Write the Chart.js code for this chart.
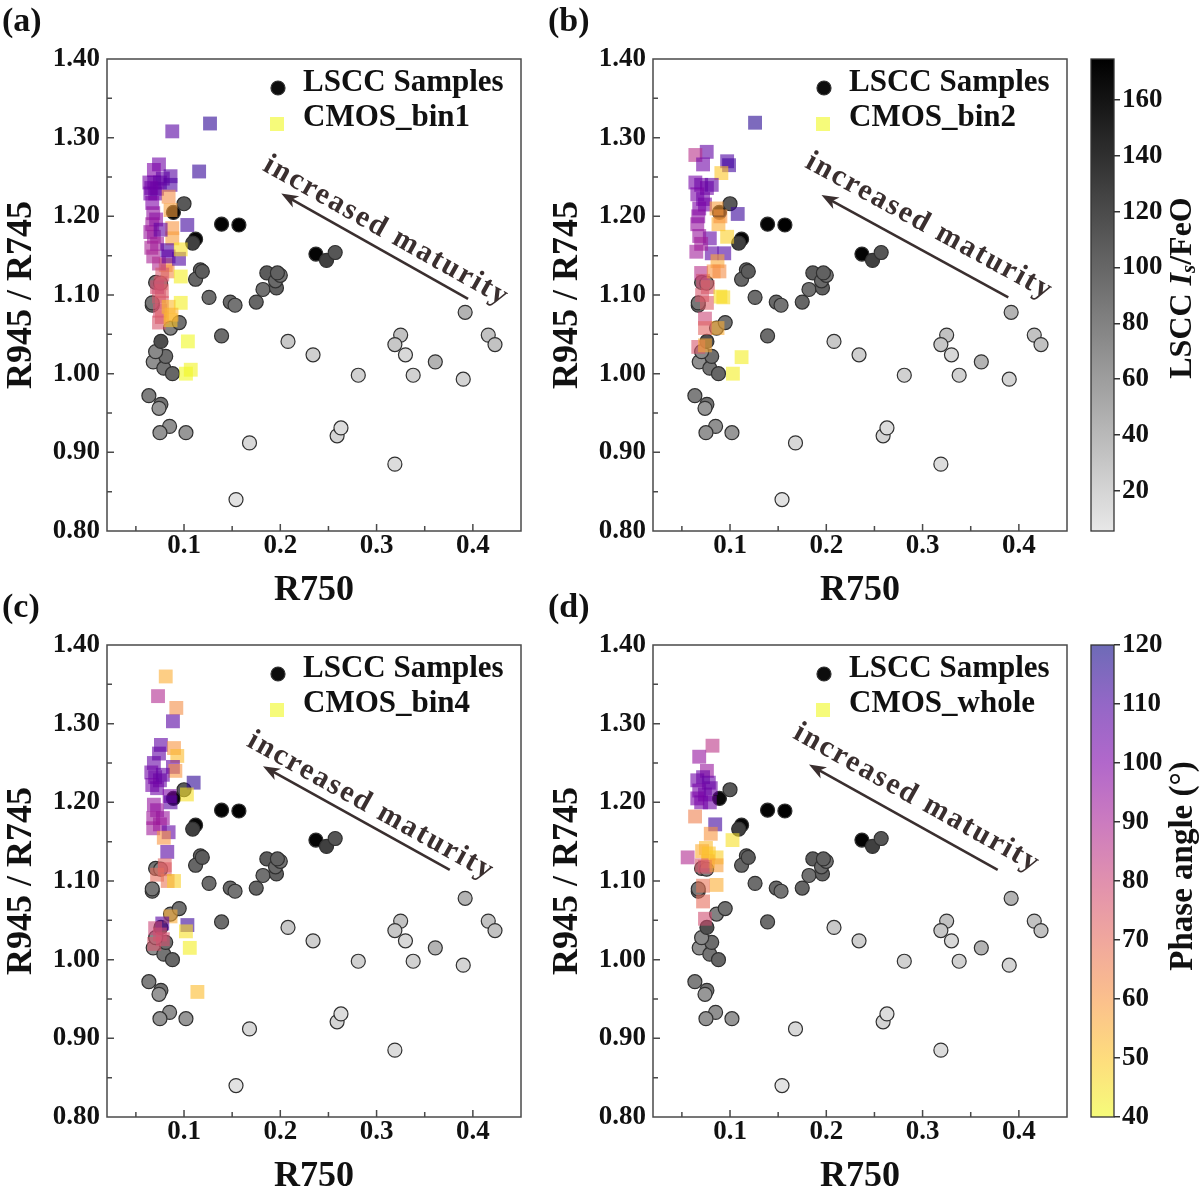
<!DOCTYPE html>
<html>
<head>
<meta charset="utf-8">
<script src="https://cdn.jsdelivr.net/npm/chart.js@4.4.0/dist/chart.umd.min.js"></script>
<style>
  body { margin: 0; background: #fff; }
  #wrap { position: relative; width: 1200px; height: 1190px; overflow: hidden; background: #fff; }
  canvas { position: absolute; }
</style>
</head>
<body>
<div id="wrap">
  <canvas id="pa" width="546" height="614" style="left:0;top:0"></canvas>
  <canvas id="pb" width="546" height="614" style="left:546px;top:0"></canvas>
  <canvas id="pc" width="546" height="614" style="left:0;top:586px"></canvas>
  <canvas id="pd" width="546" height="614" style="left:546px;top:586px"></canvas>
  <canvas id="cb1" width="140" height="600" style="left:1060px;top:0"></canvas>
  <canvas id="cb2" width="140" height="600" style="left:1060px;top:586px"></canvas>
</div>
<script>
// --- LSCC samples (same in all four panels) ---
const lsccX = [0.0635, 0.076, 0.074, 0.085, 0.075, 0.102, 0.068, 0.079, 0.088, 0.081,
  0.0705, 0.076, 0.086, 0.095, 0.067, 0.0705, 0.0757, 0.067, 0.089, 0.100,
  0.112, 0.109, 0.139, 0.157, 0.117, 0.112, 0.119, 0.126, 0.148, 0.153,
  0.139, 0.175, 0.182, 0.186, 0.196, 0.195, 0.200, 0.197, 0.237, 0.248,
  0.257, 0.208, 0.234, 0.281, 0.259, 0.263, 0.168, 0.154, 0.319, 0.325,
  0.319, 0.330, 0.338, 0.361, 0.392, 0.390, 0.416, 0.423];
const lsccY = [0.972, 0.961, 0.956, 0.933, 0.925, 0.925, 1.015, 1.007, 1.000, 1.022,
  1.028, 1.041, 1.058, 1.065, 1.087, 1.116, 1.115, 1.090, 1.205, 1.216,
  1.171, 1.166, 1.190, 1.189, 1.132, 1.120, 1.130, 1.097, 1.091, 1.087,
  1.048, 1.091, 1.107, 1.128, 1.109, 1.118, 1.125, 1.128, 1.152, 1.144,
  1.154, 1.041, 1.024, 0.998, 0.921, 0.931, 0.912, 0.840, 0.885, 1.049,
  1.037, 1.024, 0.998, 1.015, 1.078, 0.993, 1.049, 1.037];
const lsccIsFeO = [82, 92, 65, 70, 67, 65, 70, 90, 100, 95,
  75, 118, 80, 92, 95, 90, 80, 88, 168, 110,
  170, 128, 172, 174, 102, 100, 108, 95, 98, 90,
  96, 100, 92, 108, 105, 98, 90, 104, 172, 128,
  112, 29, 24, 22, 20, 14, 17, 10, 14, 33,
  30, 17, 22, 44, 44, 20, 33, 33];

// --- CMOS_bin1 ---
const bin1X = [0.0878, 0.127, 0.1157, 0.074, 0.0687, 0.086, 0.064, 0.069, 0.075, 0.086,
  0.065, 0.070, 0.067, 0.072, 0.078, 0.066, 0.084, 0.086, 0.0878, 0.0878,
  0.081, 0.083, 0.068, 0.067, 0.0687, 0.066, 0.068, 0.074, 0.065, 0.071,
  0.072, 0.1034, 0.0757, 0.0826, 0.084, 0.0948, 0.0966, 0.0966, 0.0966, 0.104,
  0.107, 0.102, 0.0774, 0.0757, 0.077, 0.074, 0.077, 0.075, 0.077, 0.074,
  0.072, 0.084, 0.086, 0.087];
const bin1Y = [1.308, 1.318, 1.257, 1.266, 1.259, 1.251, 1.243, 1.243, 1.243, 1.240,
  1.229, 1.229, 1.217, 1.235, 1.248, 1.236, 1.225, 1.208, 1.185, 1.172,
  1.138, 1.130, 1.204, 1.190, 1.174, 1.160, 1.149, 1.140, 1.180, 1.196,
  1.165, 1.189, 1.183, 1.157, 1.149, 1.146, 1.158, 1.1235, 1.090, 1.041,
  1.005, 1.000, 1.126, 1.115, 1.105, 1.098, 1.090, 1.080, 1.072, 1.065,
  1.110, 1.085, 1.068, 1.075];
const bin1Phase = [108, 115, 114, 103, 100, 108, 102, 104, 105, 110,
  103, 104, 100, 105, 106, 103, 62, 58, 60, 58,
  60, 62, 96, 93, 92, 90, 90, 88, 94, 97,
  92, 112, 106, 110, 106, 110, 45, 42, 42, 40,
  41, 40, 76, 75, 74, 76, 75, 77, 74, 76,
  78, 52, 50, 54];

// --- CMOS_bin2 ---
const bin2X = [0.126, 0.0758, 0.064, 0.072, 0.097, 0.099, 0.091, 0.064, 0.070, 0.076,
  0.066, 0.072, 0.081, 0.068, 0.074, 0.086, 0.108, 0.088, 0.097, 0.079,
  0.065, 0.094, 0.081, 0.087, 0.070, 0.072, 0.077, 0.071, 0.090, 0.093,
  0.076, 0.074, 0.087, 0.074, 0.067, 0.074, 0.112, 0.103, 0.066, 0.068,
  0.070, 0.067, 0.090, 0.083, 0.089];
const bin2Y = [1.319, 1.282, 1.278, 1.266, 1.270, 1.265, 1.255, 1.243, 1.240, 1.236,
  1.228, 1.222, 1.240, 1.210, 1.215, 1.210, 1.203, 1.190, 1.174, 1.172,
  1.155, 1.153, 1.153, 1.143, 1.128, 1.118, 1.110, 1.100, 1.098, 1.097,
  1.090, 1.070, 1.058, 1.058, 1.034, 1.036, 1.021, 1.000, 1.190, 1.175,
  1.165, 1.200, 1.200, 1.130, 1.130];
const bin2Phase = [116, 106, 86, 103, 110, 112, 50, 102, 104, 103,
  101, 103, 106, 100, 102, 58, 113, 55, 48, 106,
  92, 110, 107, 56, 86, 78, 74, 76, 45, 46,
  74, 80, 55, 72, 76, 56, 42, 42, 95, 94,
  92, 97, 60, 60, 62];

// --- CMOS_bin4 ---
const bin4X = [0.081, 0.073, 0.092, 0.0885, 0.076, 0.0896, 0.093, 0.074, 0.0687, 0.0885,
  0.091, 0.066, 0.070, 0.075, 0.067, 0.072, 0.078, 0.110, 0.103, 0.085,
  0.0687, 0.086, 0.072, 0.068, 0.078, 0.068, 0.075, 0.084, 0.079, 0.0826,
  0.080, 0.080, 0.072, 0.083, 0.0896, 0.086, 0.0774, 0.1035, 0.102, 0.070,
  0.075, 0.069, 0.078, 0.106, 0.1139];
const bin4Y = [1.360, 1.335, 1.320, 1.303, 1.273, 1.269, 1.259, 1.262, 1.250, 1.245,
  1.240, 1.238, 1.232, 1.228, 1.222, 1.218, 1.235, 1.225, 1.210, 1.208,
  1.197, 1.200, 1.190, 1.180, 1.180, 1.167, 1.172, 1.162, 1.155, 1.137,
  1.120, 1.115, 1.108, 1.100, 1.100, 1.055, 1.046, 1.044, 1.036, 1.040,
  1.032, 1.020, 1.026, 1.015, 0.959];
const bin4Phase = [55, 88, 62, 108, 106, 60, 52, 106, 105, 105,
  60, 103, 104, 104, 102, 103, 105, 115, 45, 100,
  95, 108, 95, 93, 94, 92, 93, 106, 60, 108,
  72, 74, 70, 68, 48, 55, 108, 113, 45, 80,
  78, 76, 77, 42, 52];

// --- CMOS_whole ---
const wholeX = [0.0818, 0.068, 0.076, 0.066, 0.072, 0.078, 0.068, 0.074, 0.080, 0.070,
  0.079, 0.066, 0.0637, 0.0846, 0.080, 0.1026, 0.075, 0.071, 0.078, 0.086,
  0.056, 0.077, 0.0706, 0.074, 0.086, 0.086, 0.072, 0.072, 0.074];
const wholeY = [1.272, 1.258, 1.240, 1.228, 1.232, 1.225, 1.215, 1.210, 1.218, 1.200,
  1.200, 1.205, 1.182, 1.172, 1.160, 1.152, 1.142, 1.138, 1.135, 1.130,
  1.130, 1.125, 1.120, 1.118, 1.120, 1.095, 1.094, 1.074, 1.052];
const wholePhase = [85, 95, 94, 103, 104, 105, 102, 103, 104, 102,
  103, 101, 65, 112, 60, 45, 52, 55, 50, 48,
  88, 52, 75, 76, 58, 55, 68, 70, 78];

// --- axes / colourbar ticks ---
const xTicks = [0.1, 0.2, 0.3, 0.4];
const yTicks = [0.8, 0.9, 1.0, 1.1, 1.2, 1.3, 1.4];
const isFeOTicks = [20, 40, 60, 80, 100, 120, 140, 160];
const phaseTicks = [40, 50, 60, 70, 80, 90, 100, 110, 120];

const FONT = '"Liberation Serif", "Times New Roman", serif';
const INK = '#111';
const PH_MIN = 40, PH_MAX = 120;
const IS_MIN = 5.6, IS_MAX = 174.7;

// plasma colormap (reversed for phase angle), drawn semi-transparent like the figure
const plasmaStops = ['#0d0887', '#4c02a1', '#7e03a8', '#a92395', '#cc4778', '#e66c5c', '#f89540', '#fdc527', '#f0f921'];
function hexRgb(h) {
    return [parseInt(h.slice(1, 3), 16), parseInt(h.slice(3, 5), 16), parseInt(h.slice(5, 7), 16)];
}
function plasma(t) {
    t = Math.max(0, Math.min(1, t));
    const n = plasmaStops.length - 1;
    const i = Math.min(n - 1, Math.floor(t * n));
    const f = t * n - i;
    const a = hexRgb(plasmaStops[i]), b = hexRgb(plasmaStops[i + 1]);
    return a.map((v, k) => Math.round(v + (b[k] - v) * f));
}
function phaseColor(p, alpha = 0.6) {
    const c = plasma((PH_MAX - p) / (PH_MAX - PH_MIN));
    return `rgba(${c[0]},${c[1]},${c[2]},${alpha})`;
}
function greyColor(v) {
    const t = Math.max(0, Math.min(1, (v - IS_MIN) / (IS_MAX - IS_MIN)));
    const g = Math.round(232 * (1 - t));
    return `rgb(${g},${g},${g})`;
}

const panels = {
    pa: { tag: '(a)', name: 'CMOS_bin1', xs: bin1X, ys: bin1Y, ph: bin1Phase,
          head: [0.201, 1.229], tail: [0.395, 1.095], label: [0.310, 1.181] },
    pb: { tag: '(b)', name: 'CMOS_bin2', xs: bin2X, ys: bin2Y, ph: bin2Phase,
          head: [0.195, 1.227], tail: [0.389, 1.097], label: [0.307, 1.187] },
    pc: { tag: '(c)', name: 'CMOS_bin4', xs: bin4X, ys: bin4Y, ph: bin4Phase,
          head: [0.182, 1.246], tail: [0.376, 1.114], label: [0.294, 1.195] },
    pd: { tag: '(d)', name: 'CMOS_whole', xs: wholeX, ys: wholeY, ph: wholePhase,
          head: [0.182, 1.248], tail: [0.378, 1.114], label: [0.294, 1.205] }
};

// frame, inward ticks, arrow, legend and panel tag
const panelDecor = {
    id: 'panelDecor',
    afterDatasetsDraw(chart) {
        const p = panels[chart.canvas.id];
        const { ctx, chartArea: a, scales: { x, y } } = chart;
        ctx.save();
        ctx.strokeStyle = '#4a4a4a';
        ctx.lineWidth = 1.5;
        ctx.strokeRect(a.left, a.top, a.right - a.left, a.bottom - a.top);

        // major + minor ticks pointing into the plot
        const xStep = xTicks[1] - xTicks[0], yStep = yTicks[1] - yTicks[0];
        ctx.beginPath();
        for (let v = xTicks[0] - xStep / 2; v < x.max - 1e-6; v += xStep / 2) {
            if (v <= x.min) continue;
            const major = xTicks.some(t => Math.abs(t - v) < 1e-6);
            const px = x.getPixelForValue(v);
            ctx.moveTo(px, a.bottom); ctx.lineTo(px, a.bottom - (major ? 7 : 5));
        }
        for (let v = yTicks[0] + yStep / 2; v < y.max - 1e-6; v += yStep / 2) {
            const major = yTicks.some(t => Math.abs(t - v) < 1e-6);
            const py = y.getPixelForValue(v);
            ctx.moveTo(a.left, py); ctx.lineTo(a.left + (major ? 7 : 5), py);
        }
        ctx.stroke();

        // "increased maturity" arrow
        const hx = x.getPixelForValue(p.head[0]), hy = y.getPixelForValue(p.head[1]);
        const tx = x.getPixelForValue(p.tail[0]), ty = y.getPixelForValue(p.tail[1]);
        const ang = Math.atan2(hy - ty, hx - tx);
        const c = Math.cos(ang), s = Math.sin(ang);
        const L = 17, W = 6.5;
        ctx.strokeStyle = ctx.fillStyle = '#3a2f2f';
        ctx.lineWidth = 2.6;
        ctx.beginPath();
        ctx.moveTo(tx, ty);
        ctx.lineTo(hx - c * L * 0.7, hy - s * L * 0.7);
        ctx.stroke();
        ctx.beginPath();
        ctx.moveTo(hx, hy);
        ctx.lineTo(hx - L * c + W * s, hy - L * s - W * c);
        ctx.lineTo(hx - 0.72 * L * c, hy - 0.72 * L * s);
        ctx.lineTo(hx - L * c - W * s, hy - L * s + W * c);
        ctx.closePath();
        ctx.fill();

        const lx = x.getPixelForValue(p.label[0]), ly = y.getPixelForValue(p.label[1]);
        ctx.save();
        ctx.translate(lx, ly);
        ctx.rotate(Math.atan2(ty - hy, tx - hx));
        ctx.font = `bold 30px ${FONT}`;
        ctx.letterSpacing = '2px';
        ctx.textAlign = 'center';
        ctx.textBaseline = 'middle';
        ctx.fillText('increased maturity', 0, 0);
        ctx.restore();

        // legend
        ctx.fillStyle = greyColor(165);
        ctx.strokeStyle = '#303030';
        ctx.lineWidth = 1.2;
        ctx.beginPath();
        ctx.arc(278, 88, 7, 0, Math.PI * 2);
        ctx.fill(); ctx.stroke();
        ctx.fillStyle = phaseColor(PH_MIN);
        ctx.fillRect(277 - 7, 124 - 7, 14, 14);
        ctx.fillStyle = INK;
        ctx.font = `bold 31px ${FONT}`;
        ctx.textAlign = 'left';
        ctx.textBaseline = 'middle';
        ctx.fillText('LSCC Samples', 303, 83);
        ctx.fillText(p.name, 303, 118);

        // panel tag
        ctx.font = `bold 34px ${FONT}`;
        ctx.fillText(p.tag, 2, 22);
        ctx.restore();
    }
};

function makePanel(id) {
    const p = panels[id];
    new Chart(document.getElementById(id), {
        type: 'scatter',
        data: {
            datasets: [
                {
                    label: p.name,
                    data: p.xs.map((v, i) => ({ x: v, y: p.ys[i] })),
                    pointStyle: 'rect',
                    pointRadius: 9.8,
                    pointBackgroundColor: p.ph.map(v => phaseColor(v)),
                    pointBorderWidth: 0,
                    order: 0
                },
                {
                    label: 'LSCC Samples',
                    data: lsccX.map((v, i) => ({ x: v, y: lsccY[i] })),
                    pointStyle: 'circle',
                    pointRadius: 7,
                    pointBackgroundColor: lsccIsFeO.map(greyColor),
                    pointBorderColor: '#303030',
                    pointBorderWidth: 1.2,
                    order: 1
                }
            ]
        },
        options: {
            responsive: false,
            animation: false,
            events: [],
            layout: { padding: { top: 59, right: 25, left: 0, bottom: 0 } },
            plugins: { legend: { display: false }, tooltip: { enabled: false } },
            scales: {
                x: {
                    type: 'linear', min: 0.02, max: 0.45,
                    afterBuildTicks: s => { s.ticks = xTicks.map(v => ({ value: v })); },
                    afterFit: s => { s.height = 83; },
                    grid: { display: false, drawTicks: false },
                    border: { display: false },
                    ticks: {
                        color: INK, padding: 2, maxRotation: 0,
                        font: { family: FONT, size: 27, weight: 'bold', lineHeight: 1 },
                        callback: v => v.toFixed(1)
                    },
                    title: {
                        display: true, text: 'R750', color: INK,
                        font: { family: FONT, size: 36, weight: 'bold' },
                        padding: { top: 0, bottom: 2 }
                    }
                },
                y: {
                    type: 'linear', min: 0.8, max: 1.4,
                    afterBuildTicks: s => { s.ticks = yTicks.map(v => ({ value: v })); },
                    afterFit: s => { s.width = 107; },
                    grid: { display: false, drawTicks: false },
                    border: { display: false },
                    ticks: {
                        color: INK, padding: 7,
                        font: { family: FONT, size: 27, weight: 'bold' },
                        callback: v => v.toFixed(2)
                    },
                    title: {
                        display: true, text: 'R945 / R745', color: INK,
                        font: { family: FONT, size: 36, weight: 'bold' },
                        padding: { top: 0, bottom: 0 }
                    }
                }
            }
        },
        plugins: [panelDecor]
    });
}

// colourbars: one floating bar filled with the colormap, axis on the right
const cbInfo = {
    cb1: { lo: IS_MIN, hi: IS_MAX, ticks: isFeOTicks, color: greyColor, cy: 288 },
    cb2: { lo: PH_MIN, hi: PH_MAX, ticks: phaseTicks, color: v => phaseColor(v), cy: 280 }
};

const cbDecor = {
    id: 'cbDecor',
    afterDatasetsDraw(chart) {
        const { ctx, chartArea: a } = chart;
        const id = chart.canvas.id;
        ctx.save();
        ctx.strokeStyle = '#333';
        ctx.lineWidth = 1.3;
        ctx.strokeRect(a.left, a.top, a.right - a.left, a.bottom - a.top);
        ctx.translate(123, cbInfo[id].cy);
        ctx.rotate(-Math.PI / 2);
        ctx.fillStyle = INK;
        ctx.textBaseline = 'middle';
        ctx.textAlign = 'left';
        const big = `bold 32px ${FONT}`, it = `italic bold 32px ${FONT}`, sub = `italic bold 21px ${FONT}`;
        if (id === 'cb1') {
            const parts = [['LSCC ', big, 0], ['I', it, 0], ['s', sub, 7], ['/FeO', big, 0]];
            let w = 0;
            parts.forEach(q => { ctx.font = q[1]; w += ctx.measureText(q[0]).width; });
            let cx = -w / 2;
            parts.forEach(q => { ctx.font = q[1]; ctx.fillText(q[0], cx, q[2]); cx += ctx.measureText(q[0]).width; });
        } else {
            ctx.font = `bold 33px ${FONT}`;
            ctx.textAlign = 'center';
            ctx.fillText('Phase angle (°)', 0, 0);
        }
        ctx.restore();
    }
};

function makeColorbar(id) {
    const cb = cbInfo[id];
    new Chart(document.getElementById(id), {
        type: 'bar',
        data: {
            labels: [''],
            datasets: [{
                data: [[cb.lo, cb.hi]],
                backgroundColor: c => {
                    const ch = c.chart;
                    if (!ch.chartArea) return 'transparent';
                    const ys = ch.scales.y;
                    const g = ch.ctx.createLinearGradient(0, ys.getPixelForValue(cb.lo), 0, ys.getPixelForValue(cb.hi));
                    for (let k = 0; k <= 24; k++) {
                        g.addColorStop(k / 24, cb.color(cb.lo + (cb.hi - cb.lo) * k / 24));
                    }
                    return g;
                },
                borderWidth: 0,
                barPercentage: 1,
                categoryPercentage: 1
            }]
        },
        options: {
            responsive: false,
            animation: false,
            events: [],
            layout: { padding: { top: 59, bottom: 69, left: 31, right: 0 } },
            plugins: { legend: { display: false }, tooltip: { enabled: false } },
            scales: {
                x: { display: false },
                y: {
                    position: 'right', min: cb.lo, max: cb.hi,
                    afterBuildTicks: s => { s.ticks = cb.ticks.map(v => ({ value: v })); },
                    afterFit: s => { s.width = 86; },
                    grid: { drawOnChartArea: false, drawTicks: true, tickLength: 6, color: '#333', lineWidth: 1.5 },
                    border: { display: false },
                    ticks: { color: INK, padding: 2, font: { family: FONT, size: 27, weight: 'bold' } }
                }
            }
        },
        plugins: [cbDecor]
    });
}

['pa', 'pb', 'pc', 'pd'].forEach(makePanel);
['cb1', 'cb2'].forEach(makeColorbar);
</script>
</body>
</html>
